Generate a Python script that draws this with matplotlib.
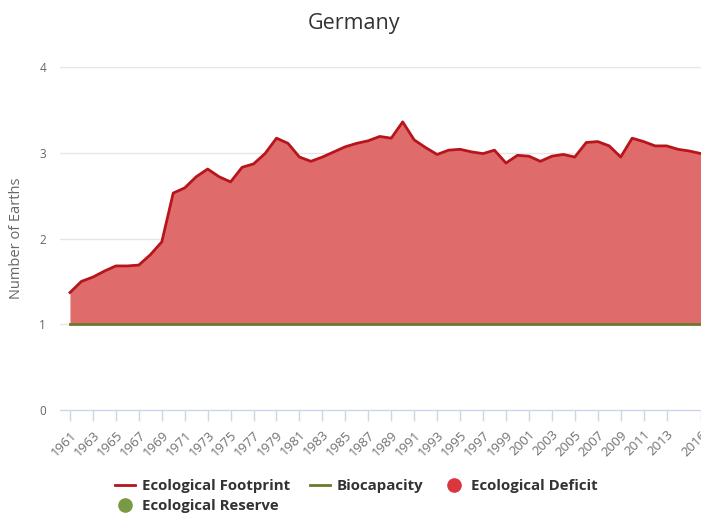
import numpy as np
import matplotlib
matplotlib.use("Agg")
import matplotlib.pyplot as plt
from matplotlib.lines import Line2D

plt.rcParams["font.family"] = ["Open Sans", "DejaVu Sans"]

# ---------- data ----------
years = list(range(1961, 2017))
footprint = [
    1.37, 1.50, 1.55, 1.62, 1.68, 1.68, 1.69, 1.81, 1.96, 2.53,
    2.59, 2.72, 2.81, 2.72, 2.66, 2.83, 2.87, 2.99, 3.17, 3.11,
    2.95, 2.90, 2.95, 3.01, 3.07, 3.11, 3.14, 3.19, 3.17, 3.36,
    3.15, 3.06, 2.98, 3.03, 3.04, 3.01, 2.99, 3.03, 2.88, 2.97,
    2.96, 2.90, 2.96, 2.98, 2.95, 3.12, 3.13, 3.08, 2.95, 3.17,
    3.13, 3.08, 3.08, 3.04, 3.02, 2.99,
]
biocapacity = [1.0] * len(years)
tick_years = list(range(1961, 2014, 2)) + [2016]
y_ticks = [0, 1, 2, 3, 4]

FOOT_COLOR = "#b8141c"
FILL_COLOR = "#e06b6b"
BIO_COLOR = "#6b7a2a"
DEFICIT_COLOR = "#d9363e"
RESERVE_COLOR = "#799a45"
TEXT_GRAY = "#666666"
AXIS_COLOR = "#ccd6eb"

# figure in pixel units (701 x 521)
W, H = 701, 521
fig = plt.figure(figsize=(W / 100, H / 100), dpi=100)
ax = fig.add_axes([60 / W, 1 - 410 / H, (W - 60) / W, 343 / H])

yrs = np.array(years)
fp = np.array(footprint)
bc = np.array(biocapacity)

# deficit / reserve areas between the two lines
ax.fill_between(yrs, bc, fp, where=fp >= bc, color=FILL_COLOR, lw=0, zorder=2)
ax.fill_between(yrs, fp, bc, where=fp < bc, color=RESERVE_COLOR, lw=0, zorder=2)
ax.plot(yrs, fp, color=FOOT_COLOR, lw=2, zorder=3)
ax.plot(yrs, bc, color=BIO_COLOR, lw=2, zorder=3)

ax.set_xlim(1960.13, 2016.0)
ax.set_ylim(0, 4)
ax.set_yticks(y_ticks)
ax.set_xticks(tick_years)
ax.set_xticklabels([str(y) for y in tick_years], rotation=45, ha="right",
                   rotation_mode="anchor", fontsize=9.5, color="#707070")
ax.tick_params(axis="x", length=8, color=AXIS_COLOR, width=1, pad=5)
ax.tick_params(axis="y", length=0, labelsize=8.5, labelcolor=TEXT_GRAY, pad=10)

for y in y_ticks[1:]:
    ax.axhline(y, color="#e6e6e6", lw=1, zorder=1)
for s in ["top", "right", "left"]:
    ax.spines[s].set_visible(False)
ax.spines["bottom"].set_color(AXIS_COLOR)
ax.spines["bottom"].set_linewidth(1)

fig.text(17 / W, 1 - 238 / H, "Number of Earths", rotation=90, ha="center",
         va="center", fontsize=10.5, color=TEXT_GRAY)
fig.text(354 / W, 1 - 24 / H, "Germany", ha="center", va="center",
         fontsize=15.5, color="#333333")

# ---------- legend ----------
# order chosen so that column-major filling gives the two-row layout
handles = [
    Line2D([], [], color=FOOT_COLOR, lw=2),
    Line2D([], [], marker="o", ls="none", color=RESERVE_COLOR, markersize=9.5),
    Line2D([], [], color=BIO_COLOR, lw=2),
    Line2D([], [], marker="o", ls="none", color=DEFICIT_COLOR, markersize=9.5),
]
labels = ["Ecological Footprint", "Ecological Reserve", "Biocapacity",
          "Ecological Deficit"]
fig.legend(handles, labels, ncol=3, loc="upper left",
           bbox_to_anchor=(115 / W, 1 - 479 / H), frameon=False,
           prop={"weight": "bold", "size": 10.8}, labelcolor="#333333",
           handlelength=1.33, handletextpad=0.47, columnspacing=1.33,
           labelspacing=0.4, borderpad=0, borderaxespad=0)

fig.savefig("out.png", dpi=100)
